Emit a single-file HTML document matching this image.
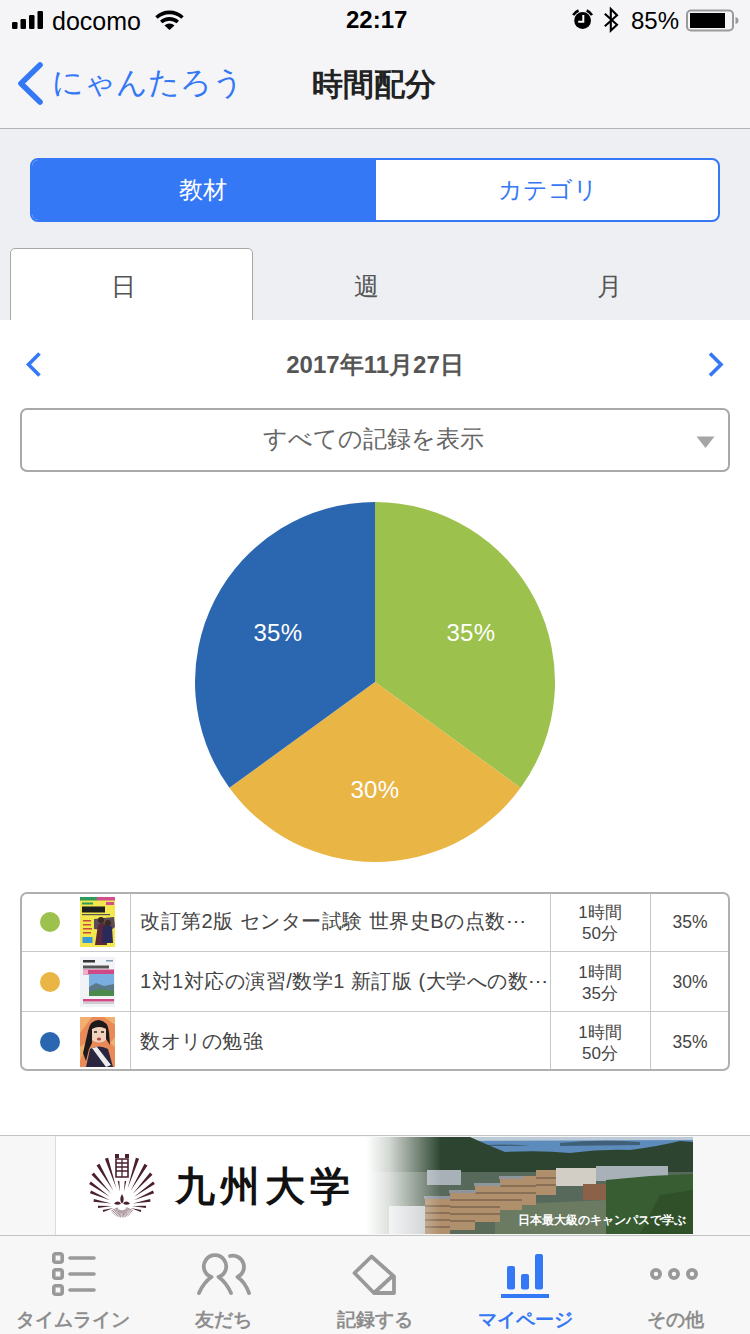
<!DOCTYPE html>
<html lang="ja">
<head>
<meta charset="utf-8">
<style>
html,body{margin:0;padding:0;}
body{width:750px;height:1334px;overflow:hidden;position:relative;background:#fff;font-family:"Liberation Sans",sans-serif;}
.a{position:absolute;}
.t{position:absolute;white-space:nowrap;}
.c{text-align:center;}
</style>
</head>
<body>
<!-- header -->
<div class="a" style="left:0;top:0;width:750px;height:128px;background:#f5f5f8;"></div>
<div class="a" style="left:0;top:128px;width:750px;height:1px;background:#b4b4b8;"></div>
<div class="a" style="left:0;top:129px;width:750px;height:191px;background:#eeeff3;"></div>

<!-- status bar -->
<svg class="a" style="left:0;top:0" width="750" height="40">
  <rect x="12" y="22" width="5.5" height="7" rx="1.2" fill="#000"/>
  <rect x="20.5" y="19" width="5.5" height="10" rx="1.2" fill="#000"/>
  <rect x="29" y="15" width="5.5" height="14" rx="1.2" fill="#000"/>
  <rect x="37.5" y="11" width="5.5" height="18" rx="1.2" fill="#000"/>
  <g fill="none" stroke="#000" stroke-width="3.6" stroke-linecap="butt">
    <path d="M156.5 17.5 A 19 19 0 0 1 182.5 17.5"/>
    <path d="M161.2 22 A 12.5 12.5 0 0 1 177.8 22"/>
  </g>
  <path d="M164.5 25.5 L169.5 30 L174.5 25.5 A 7 7 0 0 0 164.5 25.5 Z" fill="#000"/>
  <!-- alarm -->
  <circle cx="582.6" cy="20.5" r="8.4" fill="#000"/>
  <path d="M573.25 15.10 A10.8 10.8 0 0 1 578.55 10.49 M586.65 10.49 A10.8 10.8 0 0 1 591.95 15.10" fill="none" stroke="#000" stroke-width="2.6"/>
  <path d="M583.3 15 V21.8 H578.2" fill="none" stroke="#fff" stroke-width="2"/>
  <!-- bluetooth -->
  <path d="M604.8 13.8 L617 24.8 L610.8 30.6 V9 L617 15.2 L604.8 26.2" fill="none" stroke="#000" stroke-width="2.1" stroke-linejoin="miter"/>
  <!-- battery -->
  <rect x="687" y="10.5" width="46" height="20" rx="4" fill="none" stroke="#9a9a9a" stroke-width="2"/>
  <rect x="690" y="13" width="35" height="15" fill="#000"/>
  <path d="M735.5 17 Q738.5 17.5 738.5 20.5 Q738.5 23.5 735.5 24 Z" fill="#9a9a9a"/>
</svg>
<div class="t" style="left:52px;top:6px;font-size:25px;line-height:30px;color:#000;letter-spacing:0px;">docomo</div>
<div class="t" style="left:346px;top:5px;font-size:24px;line-height:30px;font-weight:bold;color:#000;letter-spacing:0px;">22:17</div>
<div class="t" style="left:631px;top:6px;font-size:24px;line-height:30px;color:#000;letter-spacing:0px;">85%</div>

<!-- nav -->
<svg class="a" style="left:0;top:40px" width="60" height="88">
  <path d="M40 25 L21 43.5 L40 62" fill="none" stroke="#3478f6" stroke-width="5.6" stroke-linecap="round" stroke-linejoin="round"/>
</svg>
<div class="t" style="left:52px;top:63px;font-size:31px;line-height:40px;color:#3478f6;">にゃんたろう</div>
<div class="t" style="left:312px;top:65px;font-size:31px;line-height:40px;color:#222;font-weight:bold;">時間配分</div>

<!-- segment -->
<div class="a" style="left:30px;top:158px;width:686px;height:60px;border:2px solid #3478f6;border-radius:8px;background:#fff;overflow:hidden;">
  <div class="a" style="left:0;top:0;width:344px;height:60px;background:#3478f6;"></div>
</div>
<div class="t c" style="left:30px;top:170px;width:346px;font-size:24px;line-height:40px;color:#fff;">教材</div>
<div class="t c" style="left:376px;top:170px;width:344px;font-size:24px;line-height:40px;color:#3478f6;">カテゴリ</div>

<!-- tabs -->
<div class="a" style="left:10px;top:248px;width:241px;height:80px;border:1px solid #a8a8a8;border-radius:5px 5px 0 0;background:#fff;"></div>
<div class="t c" style="left:2px;top:266px;width:243px;font-size:25px;line-height:40px;color:#555;">日</div>
<div class="t c" style="left:245px;top:266px;width:243px;font-size:25px;line-height:40px;color:#555;">週</div>
<div class="t c" style="left:488px;top:266px;width:243px;font-size:25px;line-height:40px;color:#555;">月</div>
<div class="a" style="left:0;top:320px;width:750px;height:815px;background:#fff;"></div>

<!-- date row -->
<svg class="a" style="left:0;top:340px" width="750" height="50">
  <path d="M39.5 13.5 L28.5 24.5 L39.5 35.5" fill="none" stroke="#3478f6" stroke-width="3.6" stroke-linecap="butt"/>
  <path d="M710 13.5 L721 24.5 L710 35.5" fill="none" stroke="#3478f6" stroke-width="3.6" stroke-linecap="butt"/>
</svg>
<div class="t c" style="left:0;top:345px;width:750px;font-size:24px;line-height:40px;color:#555;font-weight:bold;">2017年11月27日</div>

<!-- dropdown -->
<div class="a" style="left:20px;top:408px;width:706px;height:60px;border:2px solid #a9a9a9;border-radius:7px;background:#fff;"></div>
<div class="t c" style="left:18px;top:419px;width:710px;font-size:23.5px;line-height:40px;color:#666;">すべての記録を表示</div>
<svg class="a" style="left:690px;top:430px" width="30" height="24">
  <path d="M6.5 6.5 H24.5 L15.5 18 Z" fill="#a6a6a6"/>
</svg>

<!-- pie -->
<svg class="a" style="left:195px;top:502px" width="360" height="360" viewBox="-180 -180 360 360">
  <path d="M0 0 L0 -180 A180 180 0 0 1 145.62 105.80 Z" fill="#9cc14c"/>
  <path d="M0 0 L145.62 105.80 A180 180 0 0 1 -145.62 105.80 Z" fill="#e9b545"/>
  <path d="M0 0 L-145.62 105.80 A180 180 0 0 1 0 -180 Z" fill="#2b67b0"/>
</svg>
<div class="t c" style="left:421px;top:613px;width:100px;font-size:24px;line-height:40px;color:#fff;letter-spacing:0.4px;">35%</div>
<div class="t c" style="left:228px;top:613px;width:100px;font-size:24px;line-height:40px;color:#fff;letter-spacing:0.4px;">35%</div>
<div class="t c" style="left:325px;top:770px;width:100px;font-size:24px;line-height:40px;color:#fff;letter-spacing:0.4px;">30%</div>

<!-- table -->
<div class="a" style="left:20px;top:892px;width:706px;height:175px;border:2px solid #b0b0b0;border-radius:7px;"></div>
<div class="a" style="left:22px;top:951px;width:706px;height:1px;background:#c8c8c8;"></div>
<div class="a" style="left:22px;top:1011px;width:706px;height:1px;background:#c8c8c8;"></div>
<div class="a" style="left:130px;top:894px;width:1px;height:175px;background:#c8c8c8;"></div>
<div class="a" style="left:550px;top:894px;width:1px;height:175px;background:#c8c8c8;"></div>
<div class="a" style="left:650px;top:894px;width:1px;height:175px;background:#c8c8c8;"></div>

<div class="a" style="left:40px;top:912px;width:20px;height:20px;border-radius:50%;background:#9cc14c;"></div>
<div class="a" style="left:40px;top:972px;width:20px;height:20px;border-radius:50%;background:#e9b545;"></div>
<div class="a" style="left:40px;top:1032px;width:20px;height:20px;border-radius:50%;background:#2b67b0;"></div>

<div class="t" style="left:140px;top:901px;font-size:20px;line-height:40px;color:#444;letter-spacing:0.5px;">改訂第2版 センター試験 世界史Bの点数⋯</div>
<div class="t" style="left:140px;top:961px;font-size:20px;line-height:40px;color:#444;letter-spacing:0.5px;">1対1対応の演習/数学1 新訂版 (大学への数⋯</div>
<div class="t" style="left:140px;top:1021px;font-size:20px;line-height:40px;color:#444;letter-spacing:0.5px;">数オリの勉強</div>

<div class="t c" style="left:550px;top:902px;width:100px;font-size:17px;line-height:21px;color:#444;">1時間<br>50分</div>
<div class="t c" style="left:550px;top:962px;width:100px;font-size:17px;line-height:21px;color:#444;">1時間<br>35分</div>
<div class="t c" style="left:550px;top:1022px;width:100px;font-size:17px;line-height:21px;color:#444;">1時間<br>50分</div>
<div class="t c" style="left:650px;top:902px;width:80px;font-size:17.5px;line-height:40px;color:#444;">35%</div>
<div class="t c" style="left:650px;top:962px;width:80px;font-size:17.5px;line-height:40px;color:#444;">30%</div>
<div class="t c" style="left:650px;top:1022px;width:80px;font-size:17.5px;line-height:40px;color:#444;">35%</div>

<!-- book covers -->
<svg class="a" style="left:80px;top:897px" width="35" height="50">
  <rect width="35" height="50" fill="#f3e74e"/>
  <rect width="17" height="3.5" fill="#2f9a5c"/><rect x="17" width="18" height="3.5" fill="#d0508c"/>
  <rect x="2" y="5.5" width="11" height="2" fill="#2f9a5c"/><rect x="26" y="5" width="8" height="3" fill="#d0508c"/>
  <rect x="2" y="9.5" width="23" height="6" fill="#1f1f1f"/>
  <rect x="2" y="17" width="28" height="1.2" fill="#555"/>
  <g fill="#c84a3a"><rect x="3" y="23" width="8" height="1.5"/><rect x="3" y="27" width="8" height="1.5"/><rect x="3" y="31" width="9" height="1.5"/><rect x="3" y="35" width="8" height="1.5"/></g>
  <path d="M14 22 L34 20 L35 30 L30 34 L14 32 Z" fill="#5a4a5a"/>
  <path d="M15 48 L18 28 Q22 24 26 28 L27 48 Z" fill="#5a2838"/>
  <path d="M22 46 L23 30 Q28 26 32 30 L33 46 Z" fill="#2a2a5a"/>
  <circle cx="21" cy="23" r="3" fill="#3a2a20"/><circle cx="28" cy="26" r="3" fill="#3a2a20"/>
  <rect x="2.5" y="40" width="10" height="6" fill="#3a9ad8"/>
</svg>
<svg class="a" style="left:80px;top:957px" width="35" height="50">
  <rect width="35" height="50" fill="#f2f3f6"/>
  <rect x="3" y="3" width="12" height="2.5" fill="#333"/><rect x="26" y="3" width="7" height="1.5" fill="#7a9ab0"/>
  <rect x="3" y="8.5" width="26" height="3" fill="#555"/>
  <rect x="3" y="12.5" width="31" height="5" fill="#d04a86"/>
  <rect x="3" y="13" width="5" height="4" fill="#f0b0c8"/>
  <rect x="9" y="17" width="25" height="22" fill="#7aaee0"/>
  <path d="M9 30 L16 26 L24 29 L34 27 L34 39 L9 39 Z" fill="#5a7a8a"/>
  <path d="M9 35 L20 32 L34 34 L34 39 L9 39 Z" fill="#4a8a4a"/>
  <rect x="3" y="42" width="31" height="2.5" fill="#d04a86"/>
  <rect x="3" y="45.5" width="31" height="1" fill="#aaa"/>
</svg>
<svg class="a" style="left:80px;top:1017px" width="35" height="50">
  <rect width="35" height="50" fill="#e98a58"/>
  <path d="M0 0 L12 0 L0 16 Z M35 8 L24 0 L35 0 Z M0 30 L8 24 L0 44 Z M35 30 L30 26 L35 20 Z" fill="#f2b070"/>
  <path d="M8 14 Q10 3 19 3 Q28 4 29 15 L30 28 L26 22 L26 12 Q19 8 12 13 L12 26 L9 32 L6 44 L3 36 Z" fill="#1e1a1c"/>
  <path d="M12 12 Q19 8 26 12 L26 23 Q19 28 12 23 Z" fill="#f2d2bc"/>
  <path d="M14 15 H17 M21 15 H24" stroke="#222" stroke-width="1.5"/>
  <ellipse cx="19" cy="22" rx="2.2" ry="1.6" fill="#b04848"/>
  <path d="M6 50 L10 32 Q19 27 28 32 L33 50 Z" fill="#2a2640"/>
  <path d="M12 31 L17 30 L31 48 L26 50 Z" fill="#ececec"/>
</svg>
<!-- banner -->
<div class="a" style="left:0;top:1135px;width:750px;height:1px;background:#c4c4c4;"></div>
<div class="a" style="left:0;top:1136px;width:750px;height:99px;background:#f7f7f7;"></div>
<div class="a" style="left:0;top:1235px;width:750px;height:1px;background:#c4c4c4;"></div>
<div class="a" style="left:55px;top:1136px;width:1px;height:99px;background:#dcdcdc;"></div>
<svg class="a" style="left:56px;top:1137px" width="637" height="97" viewBox="0 0 637 97">
  <defs>
    <linearGradient id="fade" x1="0" x2="1" y1="0" y2="0">
      <stop offset="0" stop-color="#fff" stop-opacity="1"/>
      <stop offset="0.3" stop-color="#fff" stop-opacity="0.8"/>
      <stop offset="1" stop-color="#fff" stop-opacity="0"/>
    </linearGradient>
  </defs>
  <rect width="637" height="97" fill="#fff"/>
  <g fill="#4a1f2e">
    <path d="M60.4 51.4 L52.1 20.8 L48.9 21.8 Z M71.6 51.4 L83.1 21.8 L79.9 20.8 Z M57.4 53.8 L43.5 26.8 L40.5 28.6 Z M74.6 53.8 L91.5 28.6 L88.5 26.8 Z M55.2 56.7 L37.9 35.6 L35.5 37.8 Z M76.8 56.7 L96.5 37.8 L94.1 35.6 Z M53.8 59.8 L34.9 44.6 L33.1 47.0 Z M78.2 59.8 L98.9 47.0 L97.1 44.6 Z M54.1 63.3 L35.1 53.6 L33.9 56.2 Z M77.9 63.3 L98.1 56.2 L96.9 53.6 Z M55.2 66.5 L37.9 62.1 L37.5 64.7 Z M76.8 66.5 L94.5 64.7 L94.1 62.1 Z M56.0 69.0 L41.9 68.7 L42.1 70.9 Z M76.0 69.0 L89.9 70.9 L90.1 68.7 Z M57.4 71.0 L46.7 73.1 L47.3 74.9 Z M74.6 71.0 L84.7 74.9 L85.3 73.1 Z M64.0 54.6 L63.3 43.9 L61.7 44.1 Z M68.0 54.6 L70.3 44.1 L68.7 43.9 Z"/>
    <path d="M70.5 70.6 L76.9 73.6 M70.2 71.2 L76.1 75.0 M69.8 71.8 L75.1 76.4 M69.3 72.3 L73.9 77.6 M68.7 72.7 L72.5 78.6 M68.1 73.0 L71.1 79.4 M67.5 73.3 L69.5 80.0 M66.8 73.4 L67.9 80.4 M66.1 73.5 L66.2 80.5 M65.4 73.5 L64.5 80.4 M64.7 73.3 L62.9 80.1 M64.0 73.1 L61.3 79.5 M63.4 72.8 L59.8 78.8 M62.9 72.4 L58.4 77.8 M62.3 71.9 L57.2 76.7 M61.9 71.4 L56.2 75.4 M61.5 70.8 L55.3 73.9" stroke="#4a1f2e" stroke-width="0.9" opacity="0.55"/>
    <path d="M66 57 Q69.5 63 66 66.5 Q62.5 63 66 57 Z M58 66.5 Q62 62.5 65 66.5 Q61.5 69 58 66.5 Z M74 66.5 Q70 62.5 67 66.5 Q70.5 69 74 66.5 Z"/>
    <rect x="59" y="17" width="4" height="4"/><rect x="69" y="17" width="4" height="4"/>
    <path d="M60 22 H72 V40 H60 Z" fill="none" stroke="#4a1f2e" stroke-width="1.6"/>
    <path d="M60 26 H72 M60 30 H72 M60 34 H72 M66 22 V40" stroke="#4a1f2e" stroke-width="1.3"/>
  </g>
  <g transform="translate(-56,-1137)">
  <rect x="366" y="1137" width="327" height="97" fill="#5b6b59"/>
  <rect x="366" y="1137" width="327" height="6" fill="#bccad8"/>
  <path d="M430 1141 L693 1140 L693 1156 L430 1156 Z" fill="#5d8bbb"/>
  <path d="M560 1143 Q600 1139 640 1142 L640 1145 L560 1146 Z M470 1146 Q500 1143 530 1146 Z" fill="#3f6078"/>
  <path d="M366 1137 L470 1137 Q490 1146 505 1152 Q540 1150 570 1153 Q600 1149 630 1150 Q660 1146 680 1141 L693 1142 L693 1174 L366 1176 Z" fill="#2d4530"/>
  <rect x="366" y="1172" width="327" height="30" fill="#56695a"/>
  <rect x="427" y="1170" width="34" height="15" fill="#a9b1b8"/>
  <rect x="596" y="1166" width="72" height="15" fill="#a9b1b8"/>
  <rect x="556" y="1168" width="40" height="18" fill="#d2cec6"/>
  <path d="M495 1234 L495 1205 L606 1200 L606 1234 Z" fill="#6b7b62"/>
  <path d="M606 1234 L606 1180 L650 1176 L693 1174 L693 1234 Z" fill="#395d32"/>
  <path d="M640 1234 L660 1195 L693 1190 L693 1234 Z" fill="#2f5029"/>
  <rect x="389" y="1206" width="36" height="28" fill="#c6cacc"/>
  <rect x="583" y="1184" width="23" height="16" fill="#8b6149"/>
  <g fill="#b08f6c">
    <rect x="425" y="1198" width="25" height="36"/>
    <rect x="450" y="1192" width="25" height="38"/>
    <rect x="475" y="1185" width="25" height="37"/>
    <rect x="500" y="1178" width="22" height="32"/>
    <rect x="522" y="1176" width="14" height="29"/>
    <rect x="536" y="1170" width="20" height="25"/>
  </g>
  <g fill="#6a5644" opacity="0.55">
    <rect x="425" y="1205" width="25" height="2"/><rect x="425" y="1212" width="25" height="2"/><rect x="425" y="1219" width="25" height="2"/><rect x="425" y="1226" width="25" height="2"/>
    <rect x="450" y="1199" width="25" height="2"/><rect x="450" y="1206" width="25" height="2"/><rect x="450" y="1213" width="25" height="2"/><rect x="450" y="1220" width="25" height="2"/>
    <rect x="475" y="1192" width="25" height="2"/><rect x="475" y="1199" width="25" height="2"/><rect x="475" y="1206" width="25" height="2"/><rect x="475" y="1213" width="25" height="2"/>
    <rect x="500" y="1185" width="36" height="2"/><rect x="500" y="1192" width="36" height="2"/><rect x="500" y="1199" width="22" height="2"/>
    <rect x="536" y="1177" width="20" height="2"/><rect x="536" y="1184" width="20" height="2"/>
  </g>
  <g fill="#8e959c"><rect x="424" y="1196" width="27" height="3"/><rect x="449" y="1190" width="27" height="3"/><rect x="474" y="1183" width="27" height="3"/><rect x="499" y="1176" width="24" height="3"/></g>
  </g>
  <rect x="310" y="0" width="75" height="97" fill="url(#fade)"/>
</svg>
<div class="t" style="left:175px;top:1159px;font-family:'Liberation Serif',serif;font-size:40px;line-height:56px;color:#111;font-weight:bold;letter-spacing:5px;">九州大学</div>
<div class="t" style="left:518px;top:1210px;font-family:'Liberation Serif',serif;font-size:12px;line-height:20px;color:#fff;font-weight:bold;">日本最大級のキャンパスで学ぶ</div>


<!-- tab bar -->
<div class="a" style="left:0;top:1236px;width:750px;height:98px;background:#f7f7f7;"></div>
<svg class="a" style="left:0;top:1236px" width="750" height="98" viewBox="0 1236 750 98">
  <g fill="none" stroke="#999" stroke-width="3.6">
    <rect x="53.8" y="1253.8" width="8.4" height="8.4" rx="2"/>
    <rect x="53.8" y="1269.8" width="8.4" height="8.4" rx="2"/>
    <rect x="53.8" y="1285.8" width="8.4" height="8.4" rx="2"/>
  </g>
  <g stroke="#999" stroke-width="3.6" stroke-linecap="round">
    <path d="M70 1258 H94 M70 1274 H94 M70 1290 H94"/>
  </g>
  <g fill="none" stroke="#999" stroke-width="3.8" stroke-linecap="round" stroke-linejoin="round">
    <path d="M199 1293 Q204 1282 211.5 1277 A11.2 11.2 0 1 1 218.5 1277 Q226 1282 231 1293"/>
    <path d="M230 1256 A11.2 11.2 0 0 1 237.5 1277 Q245 1282 249 1293"/>
  </g>
  <g fill="none" stroke="#999" stroke-width="3.8" stroke-linejoin="round">
    <path d="M371.5 1256.5 L354.5 1273 L374 1293 L394 1293 L394 1276.5 Z"/>
    <path d="M374 1293 L393 1275.5"/>
  </g>
  <g fill="#3478f6">
    <rect x="507" y="1266" width="8" height="23.5" rx="2"/>
    <rect x="521" y="1274" width="8" height="15.5" rx="2"/>
    <rect x="535" y="1254" width="8" height="35.5" rx="2"/>
    <rect x="501" y="1294" width="48" height="4"/>
  </g>
  <g fill="none" stroke="#999" stroke-width="3.8">
    <circle cx="656" cy="1274" r="4.1"/>
    <circle cx="674" cy="1274" r="4.1"/>
    <circle cx="692" cy="1274" r="4.1"/>
  </g>
</svg>
<div class="t c" style="left:0;top:1300px;width:146px;font-size:19px;line-height:40px;color:#8e8e8e;font-weight:bold;">タイムライン</div>
<div class="t c" style="left:150px;top:1300px;width:146px;font-size:19px;line-height:40px;color:#8e8e8e;font-weight:bold;">友だち</div>
<div class="t c" style="left:300px;top:1300px;width:150px;font-size:19px;line-height:40px;color:#8e8e8e;font-weight:bold;">記録する</div>
<div class="t c" style="left:450px;top:1300px;width:150px;font-size:19px;line-height:40px;color:#3478f6;font-weight:bold;">マイページ</div>
<div class="t c" style="left:600px;top:1300px;width:150px;font-size:19px;line-height:40px;color:#8e8e8e;font-weight:bold;">その他</div>
</body>
</html>
